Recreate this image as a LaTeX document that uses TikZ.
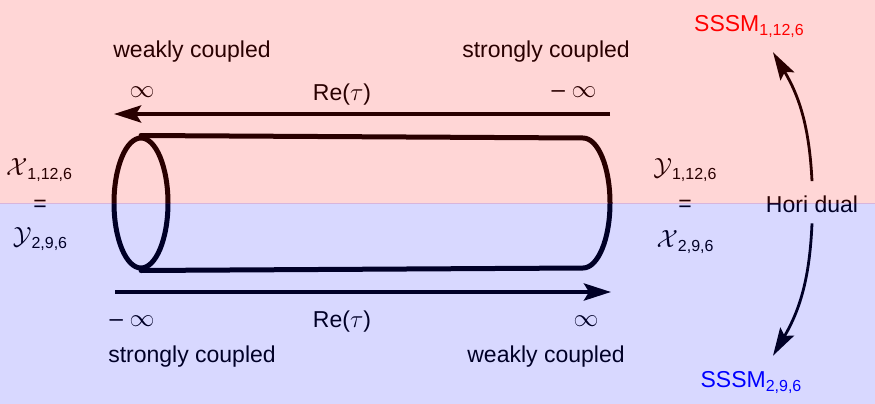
\documentclass[tikz,border=0pt]{standalone}
\usepackage{fontspec}
\setmainfont{Liberation Sans}
\usetikzlibrary{arrows.meta,shapes.geometric}
\newcommand\lowsub[1]{\raisebox{-4pt}{\fontsize{16}{16}\selectfont #1}}
\begin{document}
\begin{tikzpicture}[x=1pt,y=-1pt,
  lbl/.style={font=\fontsize{23}{27}\selectfont, inner sep=0pt, anchor=base},
  mathlbl/.style={font=\fontsize{27}{30}\selectfont, inner sep=0pt, anchor=base},
  inf/.style={font=\fontsize{24}{28}\selectfont, inner sep=0pt},
  flow/.style={line width=4.2pt, -{Stealth[length=27pt,width=17pt,inset=5pt]}},
  dual/.style={line width=2.8pt, -{Stealth[length=28pt,width=16pt,inset=5pt]}},
  tube/.style={line width=5pt, line cap=round, line join=round}]
\useasboundingbox (0,0) rectangle (875,404);

% labels of the two ends
\node[lbl] (wk1) at (192,58) {weakly coupled};
\node[lbl] (st1) at (546,58) {strongly coupled};
\node[lbl] (st2) at (192,362) {strongly coupled};
\node[lbl] (wk2) at (546,362) {weakly coupled};

\node[inf] (i1) at (142,92) {$\infty$};
\node[inf] (i2) at (574,92) {– $\infty$};
\node[inf] (i3) at (132,321) {– $\infty$};
\node[inf] (i4) at (586,321) {$\infty$};

\node[lbl] (re1) at (342,100) {Re($\tau$)};
\node[lbl] (re2) at (342,327) {Re($\tau$)};

% arrows along the real axis
\coordinate (a1s) at (610,114);
\coordinate (a1e) at (114,114);
\coordinate (a2s) at (115,292);
\coordinate (a2e) at (611,292);
\draw[flow] (a1s) -- (a1e);
\draw[flow] (a2s) -- (a2e);

% the cylinder
\node[draw, tube, ellipse, minimum width=54pt, minimum height=130pt, inner sep=0pt] (lend) at (141,203) {};
\draw[tube] (lend.north) -- (583,138)
  .. controls (598,138) and (610,167) .. (610,203)
  .. controls (610,239) and (598,268) .. (583,268) -- (lend.south);

% side labels
\node[mathlbl] (xl) at (39,175) {$\mathcal{X}$\lowsub{1,12,6}};
\node[lbl] (eql) at (40,211) {=};
\node[mathlbl] (yl) at (40,244) {$\mathcal{Y}$\lowsub{2,9,6}};

\node[mathlbl] (yr) at (685,175) {$\mathcal{Y}$\lowsub{1,12,6}};
\node[lbl] (eqr) at (685,211) {=};
\node[mathlbl] (xr) at (685,247) {$\mathcal{X}$\lowsub{2,9,6}};

% duality
\node[lbl] (hori) at (812,212) {Hori dual};
\node[lbl, text=red] (s1) at (749,32) {SSSM\lowsub{1,12,6}};
\node[lbl, text=blue] (s2) at (751,387) {SSSM\lowsub{2,9,6}};
\draw[dual] ([yshift=14pt]hori.north) to[bend right=14] ([xshift=24pt,yshift=-14pt]s1.south);
\draw[dual] ([yshift=-11pt]hori.south) to[bend left=14] ([xshift=22pt,yshift=15pt]s2.north);

% shaded halves
\fill[red, opacity=0.16] (0,0) rectangle (875,203.5);
\fill[blue, opacity=0.153] (0,202.5) rectangle (875,404);
\end{tikzpicture}
\end{document}
